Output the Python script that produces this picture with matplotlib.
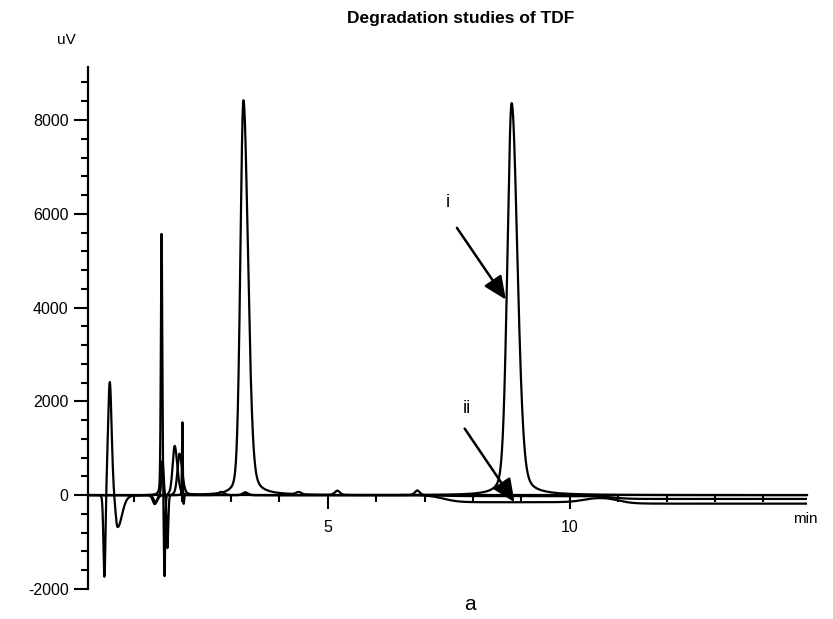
import numpy as np
import matplotlib
matplotlib.use("Agg")
import matplotlib.pyplot as plt
from matplotlib.ticker import MultipleLocator, FixedLocator

plt.rcParams["font.family"] = ["Liberation Sans", "DejaVu Sans"]
plt.rcParams["axes.unicode_minus"] = False

# peak tables: retention time (min), height (uV), FWHM (min),
# tail factor (right/left width)
trace_i_time = [0.39, 0.50, 0.66, 1.57, 1.63, 1.84, 3.30, 8.80]
trace_i_height = [-1850, 2450, -720, 5600, -1850, 1050, 60, 8360]
trace_i_width = [0.05, 0.09, 0.10, 0.035, 0.035, 0.10, 0.12, 0.21]
trace_i_tail = [1.0, 1.0, 2.2, 1.0, 1.0, 1.3, 1.0, 1.35]

trace_deg_time = [1.43, 1.59, 1.69, 1.94, 3.26, 4.40, 5.20, 6.85]
trace_deg_height = [-200, 740, -1150, 880, 8420, 50, 90, 100]
trace_deg_width = [0.10, 0.05, 0.04, 0.10, 0.15, 0.12, 0.12, 0.12]
trace_deg_tail = [1.0, 1.0, 1.0, 1.3, 1.5, 1.0, 1.0, 1.0]

trace_ii_time = [1.45, 2.00, 2.02, 2.80, 3.30]
trace_ii_height = [-150, 1640, -280, 70, 50]
trace_ii_width = [0.10, 0.02, 0.03, 0.15, 0.12]
trace_ii_tail = [1.0, 1.0, 1.0, 1.0, 1.0]

# baseline drift steps: time (min), change (uV)
drift_deg_time = [7.3, 10.9]
drift_deg_step = [-20, -60]
drift_ii_time = [7.4, 10.3, 11.0]
drift_ii_step = [-150, 110, -140]

lorentz_share = 0.25


def peak(t, t0, h, w, tail):
    ww = np.where(t < t0, w, w * tail)
    g = np.exp(-4 * np.log(2) * ((t - t0) / ww) ** 2)
    lo = 1.0 / (1.0 + 4 * ((t - t0) / ww) ** 2)
    return h * ((1 - lorentz_share) * g + lorentz_share * lo)


def build(t, times, heights, widths, tails, d_times=(), d_steps=()):
    y = np.zeros_like(t)
    for t0, h, w, k in zip(times, heights, widths, tails):
        y += peak(t, t0, h, w, k)
    for t0, s in zip(d_times, d_steps):
        y += s / (1 + np.exp(-(t - t0) / 0.15))
    return y


t = np.arange(0.05, 14.9, 0.002)
y_i = build(t, trace_i_time, trace_i_height, trace_i_width, trace_i_tail)
y_deg = build(t, trace_deg_time, trace_deg_height, trace_deg_width, trace_deg_tail,
              drift_deg_time, drift_deg_step)
y_ii = build(t, trace_ii_time, trace_ii_height, trace_ii_width, trace_ii_tail,
             drift_ii_time, drift_ii_step)

fig = plt.figure(figsize=(8.33, 6.19), dpi=100)
ax = fig.add_axes([88 / 833, 30 / 619, (807 - 88) / 833, (589 - 67) / 619])

for y in (y_ii, y_deg, y_i):
    ax.plot(t, y, color="black", lw=1.6)

ax.set_xlim(0.05, 14.9)
ax.set_ylim(-2000, 9130)

ax.spines["top"].set_visible(False)
ax.spines["right"].set_visible(False)
ax.spines["bottom"].set_position(("data", 0))
ax.spines["left"].set_linewidth(1.6)
ax.spines["bottom"].set_linewidth(1.6)

ax.xaxis.set_major_locator(FixedLocator([5, 10]))
ax.xaxis.set_minor_locator(MultipleLocator(1))
ax.yaxis.set_major_locator(MultipleLocator(2000))
ax.yaxis.set_minor_locator(MultipleLocator(400))
ax.tick_params(axis="both", which="major", length=10, width=1.5, labelsize=11.5)
ax.tick_params(axis="both", which="minor", length=5, width=1.5)
ax.tick_params(axis="x", which="major", pad=8)
ax.tick_params(axis="y", which="major", pad=4)

arrow = dict(arrowstyle="-|>,head_length=1.0,head_width=0.45",
             mutation_scale=14, lw=1.8, color="black", shrinkA=0, shrinkB=0)
ax.annotate("", xy=(8.68, 4170), xytext=(7.67, 5700), arrowprops=arrow)
ax.annotate("", xy=(8.86, -150), xytext=(7.83, 1420), arrowprops=arrow)
ax.text(7.48, 6250, "i", fontsize=13, ha="center", va="center")
ax.text(7.87, 1840, "ii", fontsize=13, ha="center", va="center")

fig.text(461 / 833, 1 - 18 / 619, "Degradation studies of TDF", fontsize=12.5,
         fontweight="bold", ha="center", va="center")
fig.text(66 / 833, 1 - 40 / 619, "uV", fontsize=11, ha="center", va="center")
fig.text(805 / 833, 1 - 519 / 619, "min", fontsize=11, ha="center", va="center")
fig.text(470 / 833, 1 - 604 / 619, "a", fontsize=15, ha="center", va="center")

fig.savefig("out.png", dpi=100)
